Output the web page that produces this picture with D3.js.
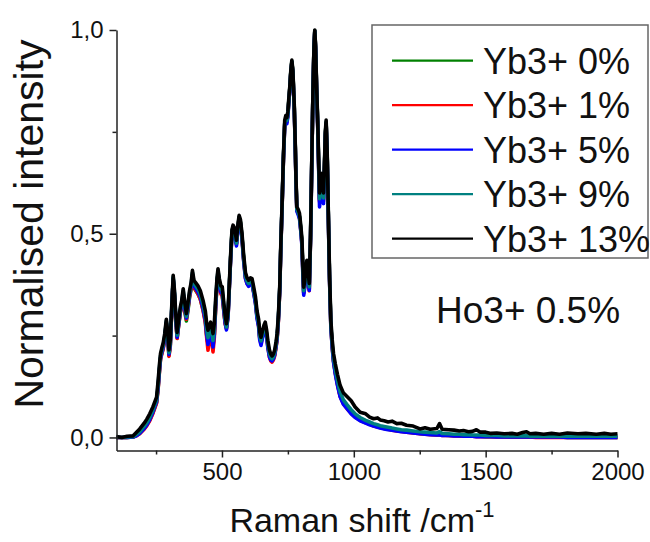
<!DOCTYPE html>
<html lang="en">
	<head>
		<meta charset="utf-8">
		<title>Raman spectra Yb3+ / Ho3+</title>
		<script src="https://d3js.org/d3.v7.min.js"></script>
		<style type="text/css">
			body { margin: 0; background: #fff; }
			svg { font-family: "Liberation Sans", Arial, sans-serif; }
			.axis path, .axis line { stroke: #222; stroke-width: 1.5; }
			.axis text { font-size: 24px; fill: #111; font-family: "Liberation Sans", Arial, sans-serif; }
		</style>
	</head>
	<body>
		<script type="text/javascript">
			//Wavenumbers (cm-1), shared by every series
			let wavenumber = [
				100,120,140,163,175,188,205,215,226,238,
				252,258,263,267,272,277,283,289,294,299,
				304,310,315,320,325,330,336,342,347,353,
				359,365,371,377,383,388,394,400,409,418,
				428,437,442,447,452,457,462,466,471,476,
				481,485,490,496,501,507,512,517,523,528,
				533,538,542,547,551,555,560,565,570,576,
				582,589,595,601,608,614,620,627,633,639,
				643,648,653,659,664,669,674,680,685,690,
				695,700,705,709,714,719,723,728,733,738,
				742,746,750,753,757,761,765,769,772,774,
				778,781,784,789,794,799,803,807,810,814,
				818,822,826,831,836,841,845,849,852,855,
				859,863,866,870,874,879,882,885,889,892,
				895,899,904,908,913,918,923,930,938,948,
				960,975,990,1005,1024,1045,1060,1075,1090,1100,
				1115,1130,1145,1163,1180,1200,1225,1251,1270,1290,
				1315,1325,1335,1360,1380,1400,1416,1435,1450,1465,
				1480,1500,1520,1542,1570,1600,1620,1640,1655,1668,
				1690,1720,1750,1780,1810,1850,1880,1920,1950,1975,
				2000
			];

			//Normalised intensity, Yb3+ 0%
			let yb0 = [
				.000,.000,.000,.001,.005,.010,.022,.031,.043,.061,
				.086,.122,.164,.194,.207,.219,.243,.281,.248,.201,
				.226,.320,.390,.348,.286,.244,.278,.308,.320,.350,
				.308,.286,.311,.343,.365,.396,.367,.361,.352,.339,
				.314,.284,.250,.230,.245,.256,.240,.226,.252,.320,
				.376,.403,.376,.356,.352,.312,.281,.269,.299,.371,
				.443,.504,.516,.509,.491,.476,.513,.540,.528,.492,
				.440,.394,.381,.375,.382,.380,.359,.333,.297,.277,
				.247,.233,.248,.264,.273,.254,.226,.202,.193,.190,
				.194,.204,.224,.243,.290,.361,.463,.568,.683,.770,
				.780,.776,.792,.821,.855,.896,.922,.895,.844,.814,
				.714,.624,.559,.552,.542,.510,.479,.405,.356,.374,
				.412,.427,.399,.364,.492,.691,.846,.958,.998,.956,
				.853,.770,.688,.582,.605,.636,.614,.584,.670,.742,
				.772,.692,.524,.389,.274,.225,.189,.159,.132,.103,
				.085,.072,.061,.052,.043,.037,.033,.029,.027,.025,
				.023,.021,.019,.017,.016,.014,.012,.010,.009,.008,
				.007,.007,.006,.005,.005,.004,.004,.003,.003,.003,
				.003,.002,.002,.002,.002,.001,.001,.001,.001,.001,
				.001,.001,.001,.001,.000,.000,.000,.000,.000,.000,
				.000
			];

			//Normalised intensity, Yb3+ 1%
			let yb1 = [
				.000,.000,.000,.001,.004,.009,.020,.029,.041,.059,
				.084,.120,.162,.192,.205,.217,.240,.279,.246,.199,
				.224,.318,.388,.346,.284,.243,.276,.306,.321,.352,
				.312,.290,.315,.346,.367,.398,.369,.362,.353,.339,
				.313,.281,.245,.214,.238,.250,.232,.210,.245,.316,
				.373,.401,.373,.352,.348,.309,.279,.267,.297,.369,
				.441,.502,.515,.507,.489,.474,.511,.539,.527,.490,
				.437,.391,.378,.372,.380,.378,.357,.331,.295,.274,
				.244,.230,.245,.262,.271,.252,.222,.197,.188,.185,
				.190,.200,.220,.239,.287,.358,.461,.566,.681,.768,
				.778,.774,.791,.820,.854,.895,.921,.894,.842,.812,
				.712,.622,.557,.550,.540,.508,.477,.402,.354,.372,
				.410,.425,.396,.360,.490,.690,.845,.957,.997,.955,
				.852,.768,.685,.578,.602,.633,.611,.580,.668,.741,
				.771,.690,.522,.387,.272,.223,.187,.157,.130,.101,
				.083,.070,.059,.050,.042,.036,.032,.028,.026,.024,
				.022,.020,.018,.016,.015,.013,.011,.009,.008,.007,
				.006,.006,.005,.005,.004,.004,.003,.003,.003,.002,
				.002,.002,.002,.001,.001,.001,.001,.001,.001,.001,
				.000,.000,.000,.000,.000,.000,.000,.000,.000,.000,
				.000
			];

			//Normalised intensity, Yb3+ 5%
			let yb5 = [
				.000,.000,.000,.001,.004,.010,.022,.031,.044,.062,
				.088,.124,.166,.195,.209,.221,.244,.282,.249,.204,
				.228,.321,.390,.349,.288,.246,.279,.309,.324,.355,
				.316,.293,.318,.349,.370,.400,.372,.366,.357,.344,
				.318,.288,.254,.228,.247,.258,.241,.222,.254,.322,
				.377,.404,.377,.357,.353,.313,.282,.264,.296,.368,
				.440,.500,.513,.505,.486,.470,.508,.537,.524,.487,
				.435,.390,.377,.371,.379,.377,.356,.329,.292,.271,
				.240,.226,.242,.259,.269,.249,.220,.198,.190,.188,
				.193,.203,.223,.242,.289,.360,.462,.567,.682,.765,
				.774,.770,.788,.818,.852,.894,.920,.892,.840,.810,
				.710,.620,.555,.547,.537,.505,.473,.396,.349,.369,
				.408,.423,.394,.361,.490,.690,.844,.956,.996,.954,
				.850,.765,.680,.566,.594,.628,.604,.574,.664,.738,
				.769,.688,.520,.385,.270,.221,.185,.155,.128,.100,
				.082,.070,.058,.049,.041,.035,.031,.028,.025,.023,
				.021,.019,.018,.016,.014,.013,.011,.009,.008,.007,
				.006,.006,.005,.005,.004,.004,.003,.003,.003,.002,
				.002,.002,.002,.001,.001,.001,.001,.001,.001,.001,
				.001,.001,.001,.001,.000,.000,.000,.000,.000,.000,
				.000
			];

			//Normalised intensity, Yb3+ 9%
			let yb9 = [
				.001,.000,.001,.002,.007,.014,.027,.036,.049,.067,
				.092,.130,.172,.200,.214,.226,.249,.286,.254,.208,
				.233,.325,.394,.354,.293,.251,.284,.314,.329,.360,
				.322,.297,.323,.354,.374,.405,.378,.372,.364,.351,
				.327,.298,.266,.245,.260,.270,.255,.238,.266,.330,
				.383,.409,.383,.364,.361,.321,.290,.271,.302,.374,
				.445,.505,.517,.510,.493,.477,.514,.541,.529,.493,
				.442,.397,.384,.378,.385,.383,.362,.336,.300,.280,
				.250,.237,.251,.267,.276,.257,.229,.206,.197,.193,
				.198,.208,.228,.247,.294,.365,.466,.571,.686,.772,
				.782,.778,.794,.823,.856,.897,.923,.896,.845,.815,
				.715,.625,.560,.553,.543,.512,.481,.408,.360,.377,
				.414,.429,.402,.370,.495,.693,.847,.958,.998,.957,
				.855,.772,.690,.586,.608,.638,.618,.588,.672,.744,
				.774,.694,.526,.392,.278,.230,.195,.166,.140,.112,
				.093,.080,.068,.058,.049,.042,.038,.034,.031,.029,
				.027,.025,.023,.021,.019,.018,.016,.014,.013,.012,
				.011,.014,.010,.009,.008,.008,.007,.007,.006,.006,
				.006,.005,.005,.005,.004,.004,.004,.004,.004,.003,
				.003,.003,.003,.003,.003,.003,.003,.003,.003,.003,
				.003
			];

			//Normalised intensity, Yb3+ 13%
			let yb13 = [
				.002,.000,.003,.004,.012,.021,.035,.045,.058,.075,
				.099,.140,.180,.206,.220,.232,.255,.290,.260,.215,
				.240,.330,.398,.360,.300,.258,.290,.320,.335,.365,
				.330,.304,.330,.360,.380,.410,.385,.380,.372,.360,
				.337,.310,.280,.263,.275,.283,.270,.255,.280,.340,
				.390,.414,.390,.372,.370,.330,.300,.279,.310,.380,
				.450,.510,.521,.515,.500,.484,.520,.545,.535,.500,
				.450,.405,.392,.386,.392,.390,.370,.345,.310,.290,
				.260,.246,.260,.275,.283,.265,.238,.215,.205,.200,
				.205,.215,.235,.254,.300,.370,.470,.575,.690,.779,
				.790,.785,.800,.828,.860,.900,.926,.900,.850,.820,
				.720,.630,.566,.560,.550,.520,.490,.420,.369,.385,
				.420,.435,.410,.378,.500,.697,.850,.960,1.000,.960,
				.860,.779,.700,.600,.620,.648,.630,.600,.680,.750,
				.779,.700,.533,.400,.287,.240,.206,.180,.155,.128,
				.110,.100,.090,.075,.062,.058,.050,.046,.048,.043,
				.041,.038,.040,.034,.035,.030,.028,.021,.024,.020,
				.022,.034,.020,.019,.018,.016,.017,.014,.015,.019,
				.013,.013,.010,.011,.009,.010,.008,.012,.014,.009,
				.010,.008,.010,.008,.011,.009,.010,.008,.010,.008,
				.009
			];

			let seriesNames = ["Yb3+ 0%", "Yb3+ 1%", "Yb3+ 5%", "Yb3+ 9%", "Yb3+ 13%"];
			let seriesValues = [yb0, yb1, yb5, yb9, yb13];
			let seriesColors = ["#008000", "#ff0000", "#0000ff", "#008080", "#000000"];

			let yMajorTicks = [0, 0.5, 1];
			let yMinorTicks = [0.25, 0.75];
			let xMajorTicks = [500, 1000, 1500, 2000];
			let xMinorTicks = [250, 750, 1250, 1750];

			//Width, height and plot edges
			let w = 650;
			let h = 542;
			let plotLeft = 116.5, plotRight = 617.5, plotTop = 30, plotBottom = 450.5;

			//Scales
			let xScale = d3.scaleLinear()
							.domain([100, 2000])
							.range([plotLeft, plotRight]);
			let yScale = d3.scaleLinear()
							.domain([-0.032, 1])
							.range([plotBottom, plotTop]);

			let svg = d3.select("body")
						.append("svg")
						.attr("width", w)
						.attr("height", h);

			//Spectra
			let line = d3.line()
						.x(function(d) { return xScale(d[0]); })
						.y(function(d) { return yScale(d[1]); });

			svg.append("g")
				.attr("id", "spectra")
				.selectAll("path")
				.data(seriesValues)
				.enter()
				.append("path")
				.attr("d", function(vals) {
					return line(wavenumber.map(function(x, i) { return [x, vals[i]]; }));
				})
				.attr("fill", "none")
				.attr("stroke", function(d, i) { return seriesColors[i]; })
				.attr("stroke-width", 3.6)
				.attr("stroke-linejoin", "round");

			//Axes
			let commaFormat = function(d) { return d3.format(".1f")(d).replace(".", ","); };

			svg.append("g")
				.attr("class", "y axis")
				.attr("transform", "translate(" + plotLeft + ",0)")
				.call(d3.axisLeft(yScale).tickValues(yMajorTicks).tickFormat(commaFormat)
					.tickSize(7).tickSizeOuter(0).tickPadding(6));
			svg.append("g")
				.attr("class", "y axis minor")
				.attr("transform", "translate(" + plotLeft + ",0)")
				.call(d3.axisLeft(yScale).tickValues(yMinorTicks).tickFormat("").tickSize(4).tickSizeOuter(0))
				.select(".domain").remove();

			svg.append("g")
				.attr("class", "x axis")
				.attr("transform", "translate(0," + plotBottom + ")")
				.call(d3.axisBottom(xScale).tickValues(xMajorTicks).tickSize(7).tickSizeOuter(0).tickPadding(5)
					.tickFormat(d3.format("d")));
			svg.append("g")
				.attr("class", "x axis minor")
				.attr("transform", "translate(0," + plotBottom + ")")
				.call(d3.axisBottom(xScale).tickValues(xMinorTicks).tickFormat("").tickSize(4).tickSizeOuter(0))
				.select(".domain").remove();

			//Axis titles
			svg.append("text")
				.attr("transform", "translate(43,224) rotate(-90)")
				.attr("text-anchor", "middle")
				.attr("font-size", 41)
				.attr("fill", "#111")
				.text("Normalised intensity");

			let xTitle = svg.append("text")
				.attr("x", 362)
				.attr("y", 532)
				.attr("text-anchor", "middle")
				.attr("font-size", 34)
				.attr("fill", "#111");
			xTitle.append("tspan").text("Raman shift /cm");
			xTitle.append("tspan").attr("dy", -15).attr("font-size", 22).text("-1");

			//Annotation
			svg.append("text")
				.attr("x", 436)
				.attr("y", 323)
				.attr("font-size", 37)
				.attr("fill", "#111")
				.text("Ho3+ 0.5%");

			//Legend
			let legend = svg.append("g").attr("id", "legend");
			legend.append("rect")
				.attr("x", 372)
				.attr("y", 25)
				.attr("width", 276)
				.attr("height", 233)
				.attr("fill", "#fff")
				.attr("stroke", "#666")
				.attr("stroke-width", 1.5);
			let rows = legend.selectAll("g.row")
				.data(seriesNames)
				.enter()
				.append("g")
				.attr("class", "row")
				.attr("transform", function(d, i) { return "translate(0," + (60.7 + i * 44.5) + ")"; });
			rows.append("line")
				.attr("x1", 392)
				.attr("x2", 473)
				.attr("stroke", function(d, i) { return seriesColors[i]; })
				.attr("stroke-width", 2.2);
			rows.append("text")
				.attr("x", 483)
				.attr("y", 13)
				.attr("font-size", 36)
				.attr("fill", "#111")
				.text(function(d) { return d; });
		</script>
	</body>
</html>
